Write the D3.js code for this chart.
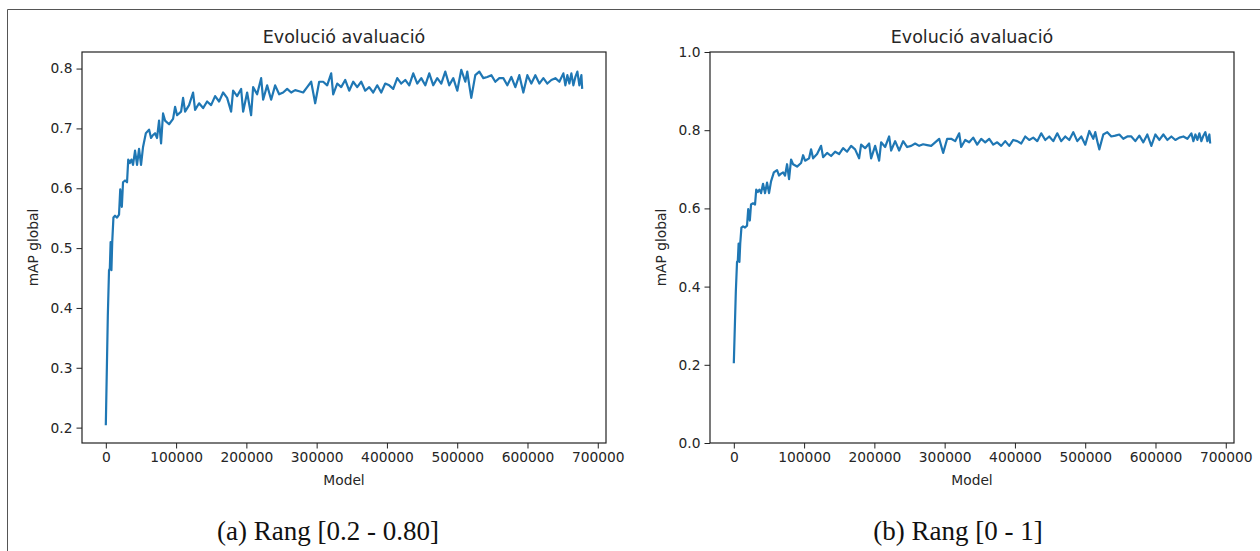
<!DOCTYPE html>
<html>
<head>
<meta charset="utf-8">
<script src="https://cdn.jsdelivr.net/npm/d3@7"></script>
<style>
  body { margin: 0; background: #fff; }
  svg { display: block; }
  .tick text { font-family: "DejaVu Sans", sans-serif; font-size: 13.8px; fill: #262626; }
</style>
</head>
<body>
<div id="fig"></div>
<script>
// Model step (x) and global mAP (y)
const steps = [
  0, 2848, 4557, 5696, 6835, 7974, 9114, 10822, 13101, 15949,
  18797, 20506, 22784, 24493, 27341, 30189, 31898, 34176, 36454, 38733,
  41581, 44429, 47277, 50125, 52973, 56960, 61517, 64365, 67213, 70061,
  72909, 75757, 78605, 81453, 84301, 89997, 95693, 98541, 101389, 107085,
  109933, 112781, 118477, 124173, 127021, 132717, 138413, 144109, 149805, 155501,
  161197, 166893, 172589, 178285, 181133, 186829, 192525, 195373, 201069, 206765,
  209613, 215309, 221005, 223853, 229549, 235245, 240941, 246637, 252333, 258029,
  263725, 269421, 275117, 280813, 286509, 292205, 297901, 303597, 309293, 314989,
  320685, 323533, 329229, 334925, 340621, 346317, 352013, 357709, 363405, 369101,
  374797, 380493, 386189, 391885, 397581, 403277, 408973, 414669, 420365, 426061,
  431757, 437453, 443149, 448845, 454541, 460237, 465933, 471629, 477325, 483021,
  488717, 494413, 500109, 505805, 511501, 514349, 517197, 520045, 525741, 531437,
  537133, 542829, 548525, 554221, 559917, 565613, 571309, 577005, 582701, 588397,
  594093, 599789, 605485, 611181, 616877, 622573, 628269, 633965, 639661, 645357,
  651053, 653901, 656749, 659597, 662445, 665293, 668141, 670989, 673837, 676685,
  677824
];
const mapGlobal = [
  0.204, 0.387, 0.463, 0.466, 0.510, 0.463, 0.510, 0.551, 0.554, 0.551,
  0.556, 0.598, 0.569, 0.610, 0.613, 0.610, 0.648, 0.642, 0.648, 0.639,
  0.663, 0.639, 0.666, 0.639, 0.669, 0.692, 0.698, 0.684, 0.689, 0.692,
  0.684, 0.713, 0.675, 0.725, 0.713, 0.707, 0.716, 0.736, 0.722, 0.728,
  0.751, 0.728, 0.739, 0.760, 0.731, 0.742, 0.734, 0.745, 0.739, 0.754,
  0.745, 0.760, 0.751, 0.728, 0.763, 0.754, 0.766, 0.728, 0.760, 0.722,
  0.769, 0.757, 0.784, 0.748, 0.772, 0.748, 0.772, 0.757, 0.760, 0.766,
  0.760, 0.764, 0.762, 0.760, 0.769, 0.778, 0.742, 0.778, 0.778, 0.772,
  0.792, 0.757, 0.775, 0.769, 0.781, 0.763, 0.778, 0.769, 0.778, 0.763,
  0.769, 0.760, 0.772, 0.760, 0.775, 0.772, 0.766, 0.784, 0.775, 0.781,
  0.772, 0.792, 0.775, 0.784, 0.772, 0.792, 0.772, 0.784, 0.775, 0.795,
  0.772, 0.784, 0.763, 0.798, 0.778, 0.795, 0.772, 0.751, 0.789, 0.795,
  0.784, 0.786, 0.789, 0.778, 0.784, 0.784, 0.772, 0.786, 0.769, 0.789,
  0.760, 0.789, 0.775, 0.789, 0.775, 0.784, 0.775, 0.781, 0.784, 0.778,
  0.792, 0.772, 0.789, 0.775, 0.792, 0.772, 0.786, 0.795, 0.772, 0.789,
  0.766
];

const xTicks = [0, 100000, 200000, 300000, 400000, 500000, 600000, 700000];
const yTicksA = [0.2, 0.3, 0.4, 0.5, 0.6, 0.7, 0.8];
const yTicksB = [0.0, 0.2, 0.4, 0.6, 0.8, 1.0];
const panelTitle = "Evolució avaluació";
const captions = ["(a) Rang [0.2 - 0.80]", "(b) Rang [0 - 1]"];

const W = 1260, H = 551;
const data = steps.map((s, i) => ({ x: s, y: mapGlobal[i] }));

const svg = d3.select("#fig").append("svg").attr("width", W).attr("height", H);

// page frame (top + left rule)
svg.append("line").attr("x1", 7.5).attr("x2", W).attr("y1", 9.5).attr("y2", 9.5)
    .attr("stroke", "#555").attr("stroke-width", 1);
svg.append("line").attr("x1", 7.5).attr("x2", 7.5).attr("y1", 9.5).attr("y2", H)
    .attr("stroke", "#555").attr("stroke-width", 1);

function draw_panel(left, yDomain, yTicks, caption, capX) {
    const top = 52, w = 524, h = 391;
    const g = svg.append("g").attr("transform", `translate(${left},${top})`);

    // matplotlib style 5% margins on x
    const xMax = d3.max(steps);
    const x = d3.scaleLinear().domain([-0.05 * xMax, 1.05 * xMax]).range([0, w]);
    const y = d3.scaleLinear().domain(yDomain).range([h, 0]);

    const xAxis = g.append("g").attr("transform", `translate(0,${h})`)
        .call(d3.axisBottom(x).tickValues(xTicks).tickFormat(d3.format("d")).tickSize(5.5).tickPadding(4));
    const yAxis = g.append("g")
        .call(d3.axisLeft(y).tickValues(yTicks).tickFormat(d3.format(".1f")).tickSize(5.5).tickPadding(4));
    [xAxis, yAxis].forEach(a => {
        a.select(".domain").remove();
        a.selectAll(".tick line").attr("stroke", "#222").attr("stroke-width", 1);
    });

    g.append("path").datum(data)
        .attr("fill", "none").attr("stroke", "#1f77b4").attr("stroke-width", 2.2)
        .attr("stroke-linejoin", "round")
        .attr("d", d3.line().x(d => x(d.x)).y(d => y(d.y)));

    g.append("rect").attr("x", 0).attr("y", 0).attr("width", w).attr("height", h)
        .attr("fill", "none").attr("stroke", "#222").attr("stroke-width", 1.2);

    g.append("text").attr("x", w / 2).attr("y", -9).attr("text-anchor", "middle")
        .style("font-family", "DejaVu Sans").style("font-size", "17.5px").attr("fill", "#262626")
        .text(panelTitle);
    g.append("text").attr("x", w / 2).attr("y", h + 42).attr("text-anchor", "middle")
        .style("font-family", "DejaVu Sans").style("font-size", "13.8px").attr("fill", "#262626")
        .text("Model");
    g.append("text").attr("transform", `translate(-44,${h / 2}) rotate(-90)`).attr("text-anchor", "middle")
        .style("font-family", "DejaVu Sans").style("font-size", "13.8px").attr("fill", "#262626")
        .text("mAP global");

    svg.append("text").attr("x", capX).attr("y", 540).attr("text-anchor", "middle")
        .style("font-family", "Liberation Serif").style("font-size", "27px").attr("fill", "#111")
        .text(caption);
}

const ext = d3.extent(mapGlobal), pad = 0.05 * (ext[1] - ext[0]);
draw_panel(82, [ext[0] - pad, ext[1] + pad], yTicksA, captions[0], 328);
draw_panel(710, [0, 1], yTicksB, captions[1], 958);
</script>
</body>
</html>
